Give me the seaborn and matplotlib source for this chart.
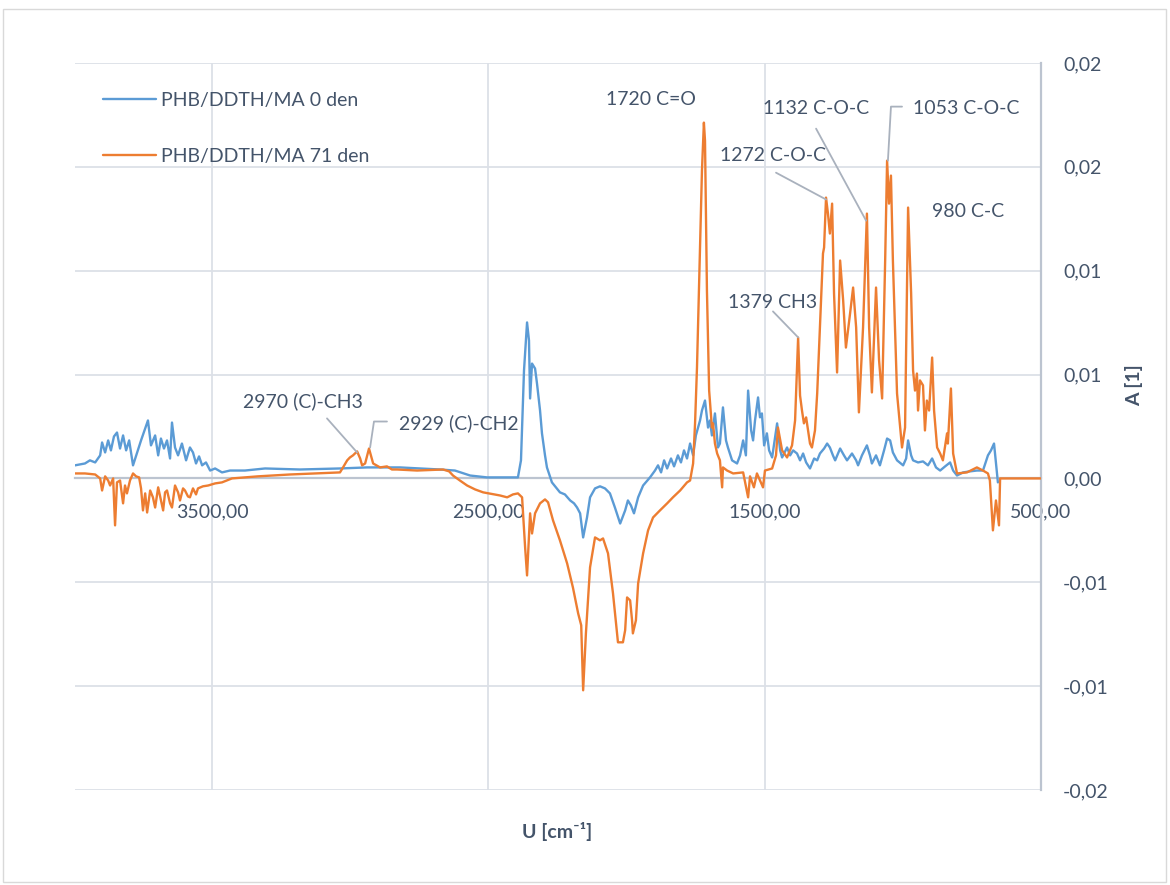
import matplotlib
matplotlib.use("Agg")
import matplotlib.pyplot as plt
import pandas as pd
import seaborn as sns
from matplotlib.patches import Rectangle

# ---- spectra: wavenumber [cm-1] and absorbance difference A [1] ----
wn_0den = [
    3996, 3960, 3942, 3923, 3905, 3898, 3887, 3876, 3866, 3855,
    3844, 3833, 3822, 3811, 3800, 3786, 3771, 3757, 3742, 3732,
    3721, 3706, 3695, 3685, 3674, 3663, 3652, 3645, 3634, 3623,
    3609, 3594, 3580, 3569, 3558, 3547, 3536, 3522, 3507, 3489,
    3464, 3435, 3381, 3308, 3182, 3037, 2939, 2820, 2675, 2621,
    2566, 2505, 2393, 2382, 2371, 2360, 2353, 2349, 2342, 2331,
    2324, 2313, 2306, 2295, 2288, 2270, 2241, 2223, 2204, 2190,
    2179, 2168, 2157, 2143, 2132, 2114, 2096, 2078, 2060, 2042,
    2023, 2005, 1995, 1984, 1973, 1958, 1940, 1915, 1897, 1886,
    1875, 1864, 1853, 1839, 1828, 1814, 1803, 1792, 1781, 1770,
    1759, 1749, 1734, 1727, 1716, 1705, 1698, 1691, 1680, 1669,
    1662, 1651, 1640, 1633, 1618, 1600, 1589, 1578, 1568, 1560,
    1549, 1542, 1535, 1524, 1517, 1510, 1502, 1492, 1484, 1473,
    1455, 1444, 1437, 1419, 1408, 1397, 1383, 1372, 1361, 1350,
    1336, 1321, 1310, 1300, 1285, 1274, 1264, 1253, 1245, 1227,
    1213, 1202, 1184, 1169, 1162, 1148, 1130, 1119, 1112, 1097,
    1083, 1068, 1057, 1046, 1036, 1021, 999, 988, 981, 970,
    963, 945, 927, 909, 894, 880, 865, 847, 829, 818,
    804, 782, 757, 732, 710, 692, 681, 670, 663, 656,
]
abs_0den = [
    0.00063, 0.00072, 0.00087, 0.00077, 0.00111, 0.00173, 0.00125, 0.00183, 0.00135, 0.00202,
    0.00221, 0.00144, 0.00207, 0.00135, 0.00183, 0.00063, 0.00125, 0.00183, 0.00241, 0.00279,
    0.00159, 0.00207, 0.00111, 0.00192, 0.00144, 0.00183, 0.00096, 0.00269, 0.00149, 0.00111,
    0.00168, 0.00087, 0.00149, 0.00125, 0.00072, 0.00106, 0.00063, 0.00077, 0.00038, 0.00048,
    0.00029, 0.00038, 0.00038, 0.00048, 0.00043, 0.00048, 0.00053, 0.00053, 0.00043, 0.00038,
    0.00014, 0.00005, 0.00005, 0.00087, 0.00520, 0.00751, 0.00664, 0.00385, 0.00553, 0.00529,
    0.00457, 0.00327, 0.00217, 0.00111, 0.00053, -0.00019, -0.00067, -0.00077, -0.00106, -0.00120,
    -0.00140, -0.00168, -0.00284, -0.00188, -0.00091, -0.00048, -0.00038, -0.00048, -0.00072, -0.00140,
    -0.00217, -0.00154, -0.00106, -0.00130, -0.00168, -0.00091, -0.00034, 0.00005, 0.00038, 0.00063,
    0.00029, 0.00087, 0.00048, 0.00096, 0.00058, 0.00111, 0.00077, 0.00135, 0.00096, 0.00168,
    0.00111, 0.00207, 0.00279, 0.00327, 0.00375, 0.00245, 0.00279, 0.00207, 0.00313, 0.00149,
    0.00168, 0.00342, 0.00183, 0.00149, 0.00087, 0.00072, 0.00111, 0.00183, 0.00111, 0.00423,
    0.00231, 0.00183, 0.00279, 0.00390, 0.00294, 0.00313, 0.00159, 0.00217, 0.00135, 0.00101,
    0.00265, 0.00135, 0.00101, 0.00149, 0.00111, 0.00135, 0.00120, 0.00087, 0.00120, 0.00077,
    0.00048, 0.00096, 0.00087, 0.00120, 0.00144, 0.00168, 0.00149, 0.00111, 0.00087, 0.00144,
    0.00111, 0.00087, 0.00120, 0.00087, 0.00063, 0.00111, 0.00159, 0.00111, 0.00072, 0.00111,
    0.00063, 0.00135, 0.00192, 0.00183, 0.00125, 0.00087, 0.00063, 0.00096, 0.00183, 0.00111,
    0.00087, 0.00077, 0.00082, 0.00063, 0.00096, 0.00053, 0.00038, 0.00058, 0.00077, 0.00038,
    0.00014, 0.00029, 0.00034, 0.00038, 0.00038, 0.00111, 0.00135, 0.00168, 0.00077, -0.00019,
]

wn_71den = [
    3996, 3960, 3923, 3905, 3898, 3887, 3876, 3869, 3858, 3851,
    3844, 3833, 3822, 3815, 3808, 3797, 3786, 3775, 3764, 3757,
    3750, 3742, 3735, 3724, 3714, 3706, 3695, 3685, 3677, 3670,
    3663, 3652, 3645, 3634, 3623, 3616, 3605, 3598, 3587, 3580,
    3569, 3558, 3551, 3533, 3514, 3489, 3464, 3428, 3334, 3218,
    3127, 3037, 3026, 3011, 3001, 2990, 2975, 2964, 2957, 2946,
    2932, 2917, 2892, 2867, 2849, 2830, 2758, 2664, 2642, 2628,
    2603, 2577, 2548, 2519, 2458, 2432, 2411, 2393, 2378, 2367,
    2360, 2349, 2342, 2331, 2313, 2295, 2284, 2266, 2241, 2215,
    2194, 2175, 2164, 2157, 2147, 2132, 2114, 2096, 2085, 2067,
    2049, 2034, 2031, 2013, 2005, 1998, 1987, 1980, 1977, 1966,
    1958, 1940, 1922, 1904, 1879, 1853, 1832, 1806, 1781, 1770,
    1759, 1752, 1745, 1741, 1734, 1727, 1720, 1716, 1709, 1701,
    1691, 1687, 1680, 1672, 1662, 1654, 1651, 1636, 1614, 1578,
    1560, 1553, 1539, 1528, 1506, 1499, 1473, 1459, 1452, 1437,
    1419, 1401, 1390, 1379, 1372, 1365, 1358, 1350, 1336, 1329,
    1318, 1310, 1300, 1289, 1285, 1278, 1271, 1264, 1256, 1249,
    1238, 1227, 1216, 1206, 1191, 1180, 1169, 1159, 1144, 1130,
    1122, 1112, 1097, 1086, 1075, 1064, 1057, 1050, 1043, 1036,
    1021, 1003, 992, 981, 970, 963, 956, 949, 945, 938,
    927, 920, 913, 905, 894, 887, 876, 865, 855, 840,
    837, 826, 818, 804, 768, 732, 710, 692, 685, 674,
    663, 652, 648, 500,
]
abs_71den = [
    0.00024, 0.00024, 0.00019, 0.00000, -0.00058, 0.00010, -0.00010, -0.00034, 0.00000, -0.00226,
    -0.00019, -0.00010, -0.00120, -0.00034, -0.00072, -0.00010, 0.00024, 0.00010, 0.00005, -0.00048,
    -0.00154, -0.00072, -0.00164, -0.00058, -0.00091, -0.00140, -0.00043, -0.00106, -0.00154, -0.00067,
    -0.00058, -0.00120, -0.00140, -0.00034, -0.00067, -0.00106, -0.00048, -0.00058, -0.00087, -0.00091,
    -0.00048, -0.00077, -0.00048, -0.00038, -0.00034, -0.00024, -0.00019, 0.00000, 0.00010, 0.00019,
    0.00024, 0.00029, 0.00053, 0.00087, 0.00101, 0.00111, 0.00130, 0.00096, 0.00063, 0.00072,
    0.00144, 0.00072, 0.00053, 0.00058, 0.00043, 0.00043, 0.00038, 0.00043, 0.00034, 0.00014,
    -0.00010, -0.00034, -0.00053, -0.00067, -0.00082, -0.00091, -0.00077, -0.00072, -0.00091, -0.00332,
    -0.00467, -0.00168, -0.00265, -0.00168, -0.00120, -0.00101, -0.00115, -0.00202, -0.00298, -0.00409,
    -0.00525, -0.00650, -0.00707, -0.01020, -0.00746, -0.00428, -0.00284, -0.00298, -0.00289, -0.00361,
    -0.00553, -0.00746, -0.00789, -0.00789, -0.00731, -0.00573, -0.00587, -0.00683, -0.00746, -0.00683,
    -0.00505, -0.00361, -0.00250, -0.00188, -0.00154, -0.00120, -0.00091, -0.00058, -0.00019, -0.00010,
    0.00072, 0.00265, 0.00534, 0.00746, 0.01097, 0.01482, 0.01713, 0.01626, 0.00905, 0.00423,
    0.00245, 0.00265, 0.00168, 0.00120, 0.00087, -0.00043, 0.00053, 0.00038, 0.00024, 0.00029,
    -0.00091, 0.00010, -0.00043, 0.00024, -0.00043, 0.00038, 0.00048, 0.00111, 0.00245, 0.00135,
    0.00101, 0.00159, 0.00279, 0.00678, 0.00399, 0.00327, 0.00265, 0.00294, 0.00168, 0.00149,
    0.00231, 0.00409, 0.00727, 0.01083, 0.01112, 0.01352, 0.01275, 0.01179, 0.01323, 0.00890,
    0.00510, 0.01049, 0.00857, 0.00630, 0.00794, 0.00919, 0.00727, 0.00318, 0.00727, 0.01275,
    0.00727, 0.00414, 0.00919, 0.00568, 0.00385, 0.01049, 0.01530, 0.01323, 0.01458, 0.01049,
    0.00409, 0.00149, 0.00245, 0.01304, 0.00890, 0.00520, 0.00423, 0.00505, 0.00327, 0.00472,
    0.00448, 0.00231, 0.00375, 0.00327, 0.00582, 0.00327, 0.00149, 0.00120, 0.00087, 0.00217,
    0.00168, 0.00433, 0.00120, 0.00024, 0.00029, 0.00053, 0.00038, 0.00024, -0.00010, -0.00250,
    -0.00106, -0.00226, 0.00000, 0.00000,
]

series_names = ["PHB/DDTH/MA 0 den", "PHB/DDTH/MA 71 den"]

x_ticks = [3500, 2500, 1500, 500]
x_tick_labels = ["3500,00", "2500,00", "1500,00", "500,00"]
y_ticks = [-0.015, -0.01, -0.005, 0.0, 0.005, 0.01, 0.015, 0.02]
y_tick_labels = ["-0,02", "-0,01", "-0,01", "0,00", "0,01", "0,01", "0,02", "0,02"]

# band assignments: label text and where it sits (wavenumber, A)
band_labels = ["1720 C=O", "1132 C-O-C", "1053 C-O-C", "1272 C-O-C",
               "980 C-C", "1379 CH3", "2970 (C)-CH3", "2929 (C)-CH2"]
band_label_pos = [(1911, 0.01824), (1314, 0.01780), (771, 0.01780), (1470, 0.01554),
                  (764, 0.01285), (1470, 0.00847), (3171, 0.00371), (2606, 0.00265)]
# leader lines from a label towards its band
band_leaders = [
    [(1314, 0.01684), (1133, 0.01241)],
    [(1003, 0.01790), (1043, 0.01790), (1054, 0.01530)],
    [(1459, 0.01472), (1278, 0.01343)],
    [(1470, 0.00804), (1379, 0.00679)],
    [(3084, 0.00289), (2975, 0.00125)],
    [(2867, 0.00274), (2914, 0.00274), (2928, 0.00149)],
]

# ---- styling ----
BLUE = "#5B9BD5"
ORANGE = "#ED7D31"
TEXT = "#44546A"
GRID = "#DCE0E7"
AXIS = "#BCC4D0"
LEADER = "#A9B1BD"

sns.set_style("white")
plt.rcParams["font.family"] = ["Lato", "DejaVu Sans"]
plt.rcParams["font.size"] = 14

df = pd.concat([
    pd.DataFrame({"wn": wn_0den, "A": abs_0den, "series": series_names[0]}),
    pd.DataFrame({"wn": wn_71den, "A": abs_71den, "series": series_names[1]}),
], ignore_index=True)

fig = plt.figure(figsize=(11.70, 8.85), dpi=100)
ax = fig.add_axes([75 / 1170, 1 - 790 / 885, 966 / 1170, 727 / 885])

sns.lineplot(data=df, x="wn", y="A", hue="series", hue_order=series_names,
             palette=[BLUE, ORANGE], sort=False, estimator=None,
             linewidth=1.7, ax=ax, zorder=3)

ax.set_xlim(3996, 500)
ax.set_ylim(-0.015, 0.02)
ax.set_xticks(x_ticks)
ax.set_xticklabels(x_tick_labels)
ax.set_yticks(y_ticks)
ax.set_yticklabels(y_tick_labels)

ax.grid(True, color=GRID, linewidth=1.3)
ax.set_axisbelow(True)

for side in ("top", "left"):
    ax.spines[side].set_visible(False)
ax.spines["bottom"].set_position(("data", 0))
ax.spines["bottom"].set_color(AXIS)
ax.spines["bottom"].set_linewidth(1.6)
ax.spines["right"].set_color(AXIS)
ax.spines["right"].set_linewidth(1.6)

ax.yaxis.tick_right()
ax.tick_params(axis="y", length=0, pad=16, labelsize=14, labelcolor=TEXT)
ax.tick_params(axis="x", length=0, pad=18, labelsize=14, labelcolor=TEXT)
for lbl in ax.get_yticklabels():
    lbl.set_horizontalalignment("left")

ax.set_xlabel("")
ax.set_ylabel("")
ax.text(0.4995, -0.0564, "U [cm\u207b\u00b9]", transform=ax.transAxes,
        ha="center", va="center", fontsize=14, fontweight="bold", color=TEXT)
ax.text(1.096, 0.557, "A [1]", transform=ax.transAxes, rotation=90,
        ha="center", va="center", fontsize=14, fontweight="bold", color=TEXT)

handles, labels = ax.get_legend_handles_labels()
ax.legend(handles, labels, loc="upper left", bbox_to_anchor=(0.029, 0.960),
          frameon=False, fontsize=14, labelcolor=TEXT, handlelength=2.7,
          handletextpad=0.3, labelspacing=2.0, borderpad=0, borderaxespad=0)

for text, (tx, ty) in zip(band_labels, band_label_pos):
    ax.text(tx, ty, text, ha="center", va="center", fontsize=14, color=TEXT, zorder=5)
for path in band_leaders:
    xs, ys = zip(*path)
    ax.plot(xs, ys, color=LEADER, linewidth=1.3, zorder=4)

fig.add_artist(Rectangle((3 / 1170, 3 / 885), 1163 / 1170, 873 / 885,
                         transform=fig.transFigure, fill=False,
                         edgecolor="#D9D9D9", linewidth=1.0))

fig.savefig("out.png", dpi=100)
